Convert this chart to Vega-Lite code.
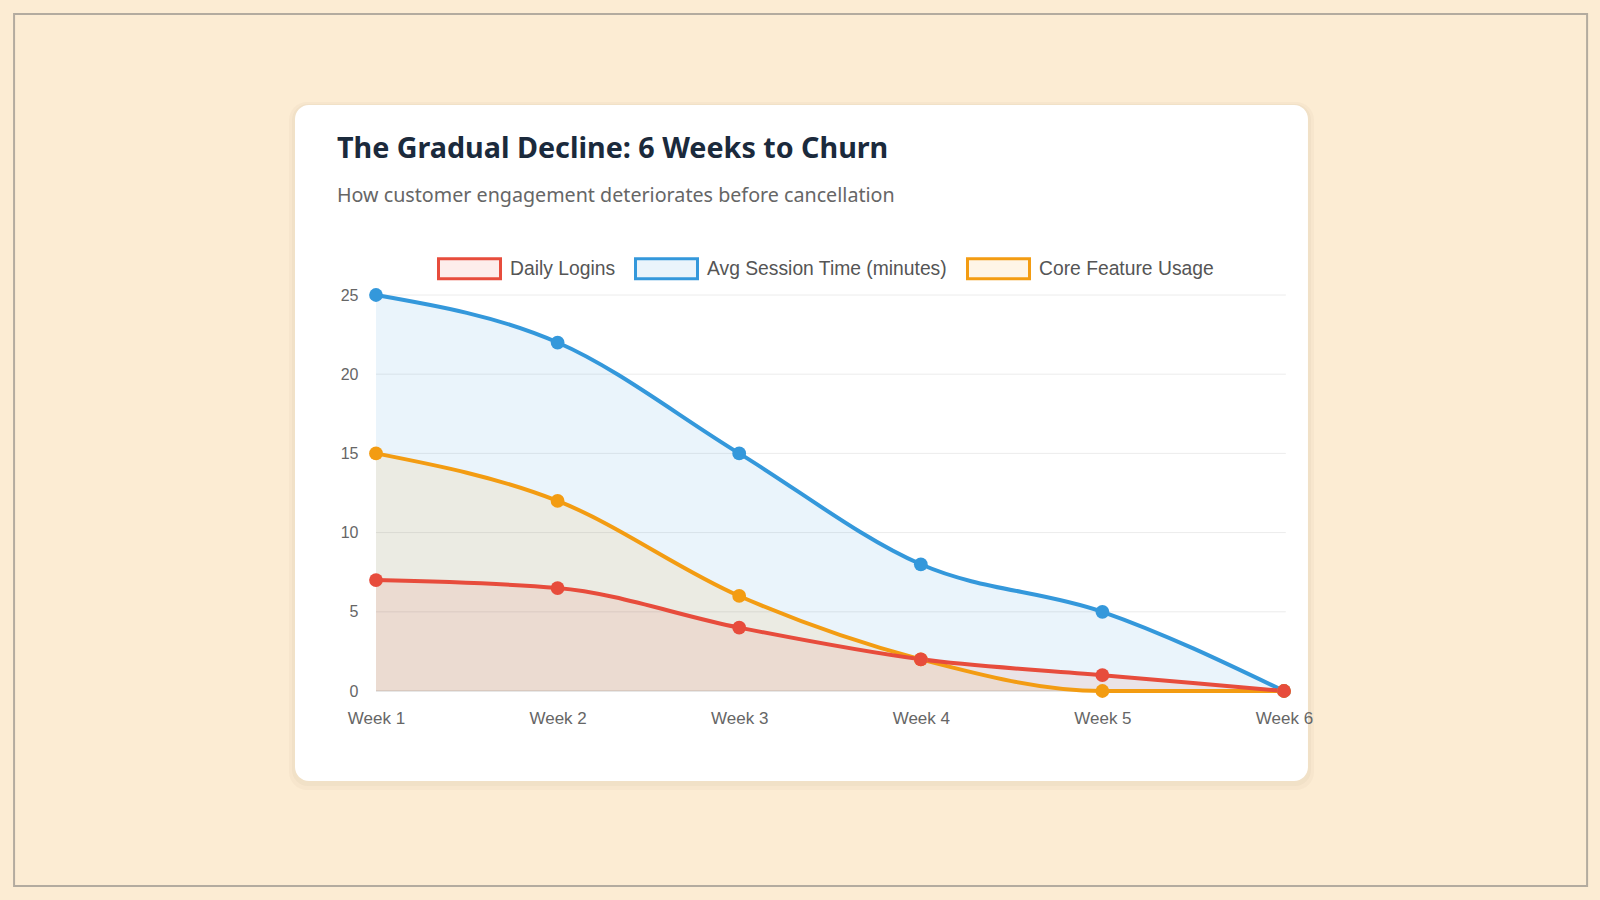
{
  "$schema": "https://vega.github.io/schema/vega-lite/v6.json",
  "width": 908,
  "height": 396,
  "autosize": {"type": "none"},
  "padding": {"left": 376, "top": 295, "right": 316, "bottom": 209},
  "background": "#fcecd3",
  "config": {"view": {"stroke": null}, "font": "Liberation Sans"},
  "title": {
    "text": "The Gradual Decline: 6 Weeks to Churn",
    "subtitle": "How customer engagement deteriorates before cancellation",
    "anchor": "start",
    "frame": "group",
    "dx": -39,
    "offset": -193,
    "font": "Noto Sans",
    "fontSize": 28.7,
    "fontWeight": "bold",
    "color": "#1b2a3c",
    "subtitleFont": "Noto Sans",
    "subtitleFontSize": 19.7,
    "subtitleColor": "#666666",
    "subtitlePadding": 23
  },
  "data": {
    "values": [
      {"series": "Avg Session Time (minutes)", "week": 1, "value": 25},
      {"series": "Avg Session Time (minutes)", "week": 2, "value": 22},
      {"series": "Avg Session Time (minutes)", "week": 3, "value": 15},
      {"series": "Avg Session Time (minutes)", "week": 4, "value": 8},
      {"series": "Avg Session Time (minutes)", "week": 5, "value": 5},
      {"series": "Avg Session Time (minutes)", "week": 6, "value": 0},
      {"series": "Core Feature Usage", "week": 1, "value": 15},
      {"series": "Core Feature Usage", "week": 2, "value": 12},
      {"series": "Core Feature Usage", "week": 3, "value": 6},
      {"series": "Core Feature Usage", "week": 4, "value": 2},
      {"series": "Core Feature Usage", "week": 5, "value": 0},
      {"series": "Core Feature Usage", "week": 6, "value": 0},
      {"series": "Daily Logins", "week": 1, "value": 7},
      {"series": "Daily Logins", "week": 2, "value": 6.5},
      {"series": "Daily Logins", "week": 3, "value": 4},
      {"series": "Daily Logins", "week": 4, "value": 2},
      {"series": "Daily Logins", "week": 5, "value": 1},
      {"series": "Daily Logins", "week": 6, "value": 0}
    ]
  },
  "layer": [
    {
      "data": {"values": [{}]},
      "mark": {"type": "rect", "fill": null, "filled": false, "stroke": "#b3ab9f", "strokeWidth": 2},
      "encoding": {
        "x": {"datum": -0.993, "type": "quantitative", "scale": {"domain": [1, 6]}},
        "x2": {"datum": 7.669},
        "y": {"datum": 42.74, "type": "quantitative", "scale": {"domain": [0, 25]}},
        "y2": {"datum": -12.31}
      }
    },
    {
      "data": {"values": [{}]},
      "mark": {"type": "rect", "fill": "#6b5a40", "opacity": 0.035, "cornerRadius": 18},
      "encoding": {
        "x": {"datum": 0.521, "type": "quantitative", "scale": {"domain": [1, 6]}},
        "x2": {"datum": 6.165},
        "y": {"datum": 37.18, "type": "quantitative", "scale": {"domain": [0, 25]}},
        "y2": {"datum": -6.25}
      }
    },
    {
      "data": {"values": [{}]},
      "mark": {"type": "rect", "fill": "#6b5a40", "opacity": 0.04, "cornerRadius": 16},
      "encoding": {
        "x": {"datum": 0.5375, "type": "quantitative", "scale": {"domain": [1, 6]}},
        "x2": {"datum": 6.1485},
        "y": {"datum": 37.06, "type": "quantitative", "scale": {"domain": [0, 25]}},
        "y2": {"datum": -6.0}
      }
    },
    {
      "data": {"values": [{}]},
      "mark": {"type": "rect", "fill": "#ffffff", "cornerRadius": 14},
      "encoding": {
        "x": {"datum": 0.554, "type": "quantitative", "scale": {"domain": [1, 6]}},
        "x2": {"datum": 6.132},
        "y": {"datum": 36.99, "type": "quantitative", "scale": {"domain": [0, 25]}},
        "y2": {"datum": -5.68}
      }
    },
    {
      "data": {"values": [{"tick": 0}, {"tick": 5}, {"tick": 10}, {"tick": 15}, {"tick": 20}, {"tick": 25}]},
      "mark": {"type": "rule", "strokeWidth": 1},
      "encoding": {
        "x": {"datum": 1, "type": "quantitative", "scale": {"domain": [1, 6]}},
        "x2": {"datum": 6.01},
        "y": {"field": "tick", "type": "quantitative", "scale": {"domain": [0, 25]}},
        "stroke": {"condition": {"test": "datum.tick === 0", "value": "#cfcfcf"}, "value": "#ececec"},
        "strokeWidth": {"condition": {"test": "datum.tick === 0", "value": 1.5}, "value": 1}
      }
    },
    {
      "mark": {"type": "area", "interpolate": "monotone", "opacity": 0.1},
      "encoding": {
        "x": {"field": "week", "type": "quantitative", "scale": {"domain": [1, 6]}},
        "y": {"field": "value", "type": "quantitative", "stack": null, "scale": {"domain": [0, 25]}},
        "color": {"field": "series", "type": "nominal"}
      }
    },
    {
      "mark": {"type": "line", "interpolate": "monotone", "strokeWidth": 4},
      "encoding": {
        "x": {
          "field": "week",
          "type": "quantitative",
          "scale": {"domain": [1, 6]},
          "axis": {
            "values": [1, 2, 3, 4, 5, 6],
            "labelExpr": "'Week ' + datum.value",
            "title": null,
            "grid": false,
            "ticks": false,
            "domain": false,
            "labelFlush": false,
            "labelFontSize": 17,
            "labelColor": "#666666",
            "labelPadding": 19,
            "zindex": 1
          }
        },
        "y": {
          "field": "value",
          "type": "quantitative",
          "scale": {"domain": [0, 25]},
          "axis": {
            "values": [0, 5, 10, 15, 20, 25],
            "title": null,
            "grid": false,
            "ticks": false,
            "domain": false,
            "labelFontSize": 16,
            "labelColor": "#666666",
            "labelPadding": 18,
            "zindex": 1
          }
        },
        "color": {
          "field": "series",
          "type": "nominal",
          "scale": {
            "domain": ["Daily Logins", "Avg Session Time (minutes)", "Core Feature Usage"],
            "range": ["#e74c3c", "#3498db", "#f39c12"]
          },
          "legend": {
            "orient": "none",
            "legendX": 61,
            "legendY": -59,
            "direction": "horizontal",
            "title": null,
            "symbolType": "M-1,-0.32H1V0.32H-1Z",
            "symbolSize": 3844,
            "symbolStrokeWidth": 3,
            "labelFontSize": 19.3,
            "labelLimit": 400,
            "labelColor": "#555555",
            "labelOffset": 8,
            "columnPadding": 13,
            "encode": {
              "symbols": {
                "update": {
                  "fill": {"scale": "color", "field": "value"},
                  "fillOpacity": {"value": 0.1},
                  "stroke": {"scale": "color", "field": "value"}
                }
              }
            }
          }
        }
      }
    },
    {
      "mark": {"type": "point", "filled": true, "size": 190, "opacity": 1},
      "encoding": {
        "x": {"field": "week", "type": "quantitative", "scale": {"domain": [1, 6]}},
        "y": {"field": "value", "type": "quantitative", "scale": {"domain": [0, 25]}},
        "color": {"field": "series", "type": "nominal"}
      }
    }
  ]
}
